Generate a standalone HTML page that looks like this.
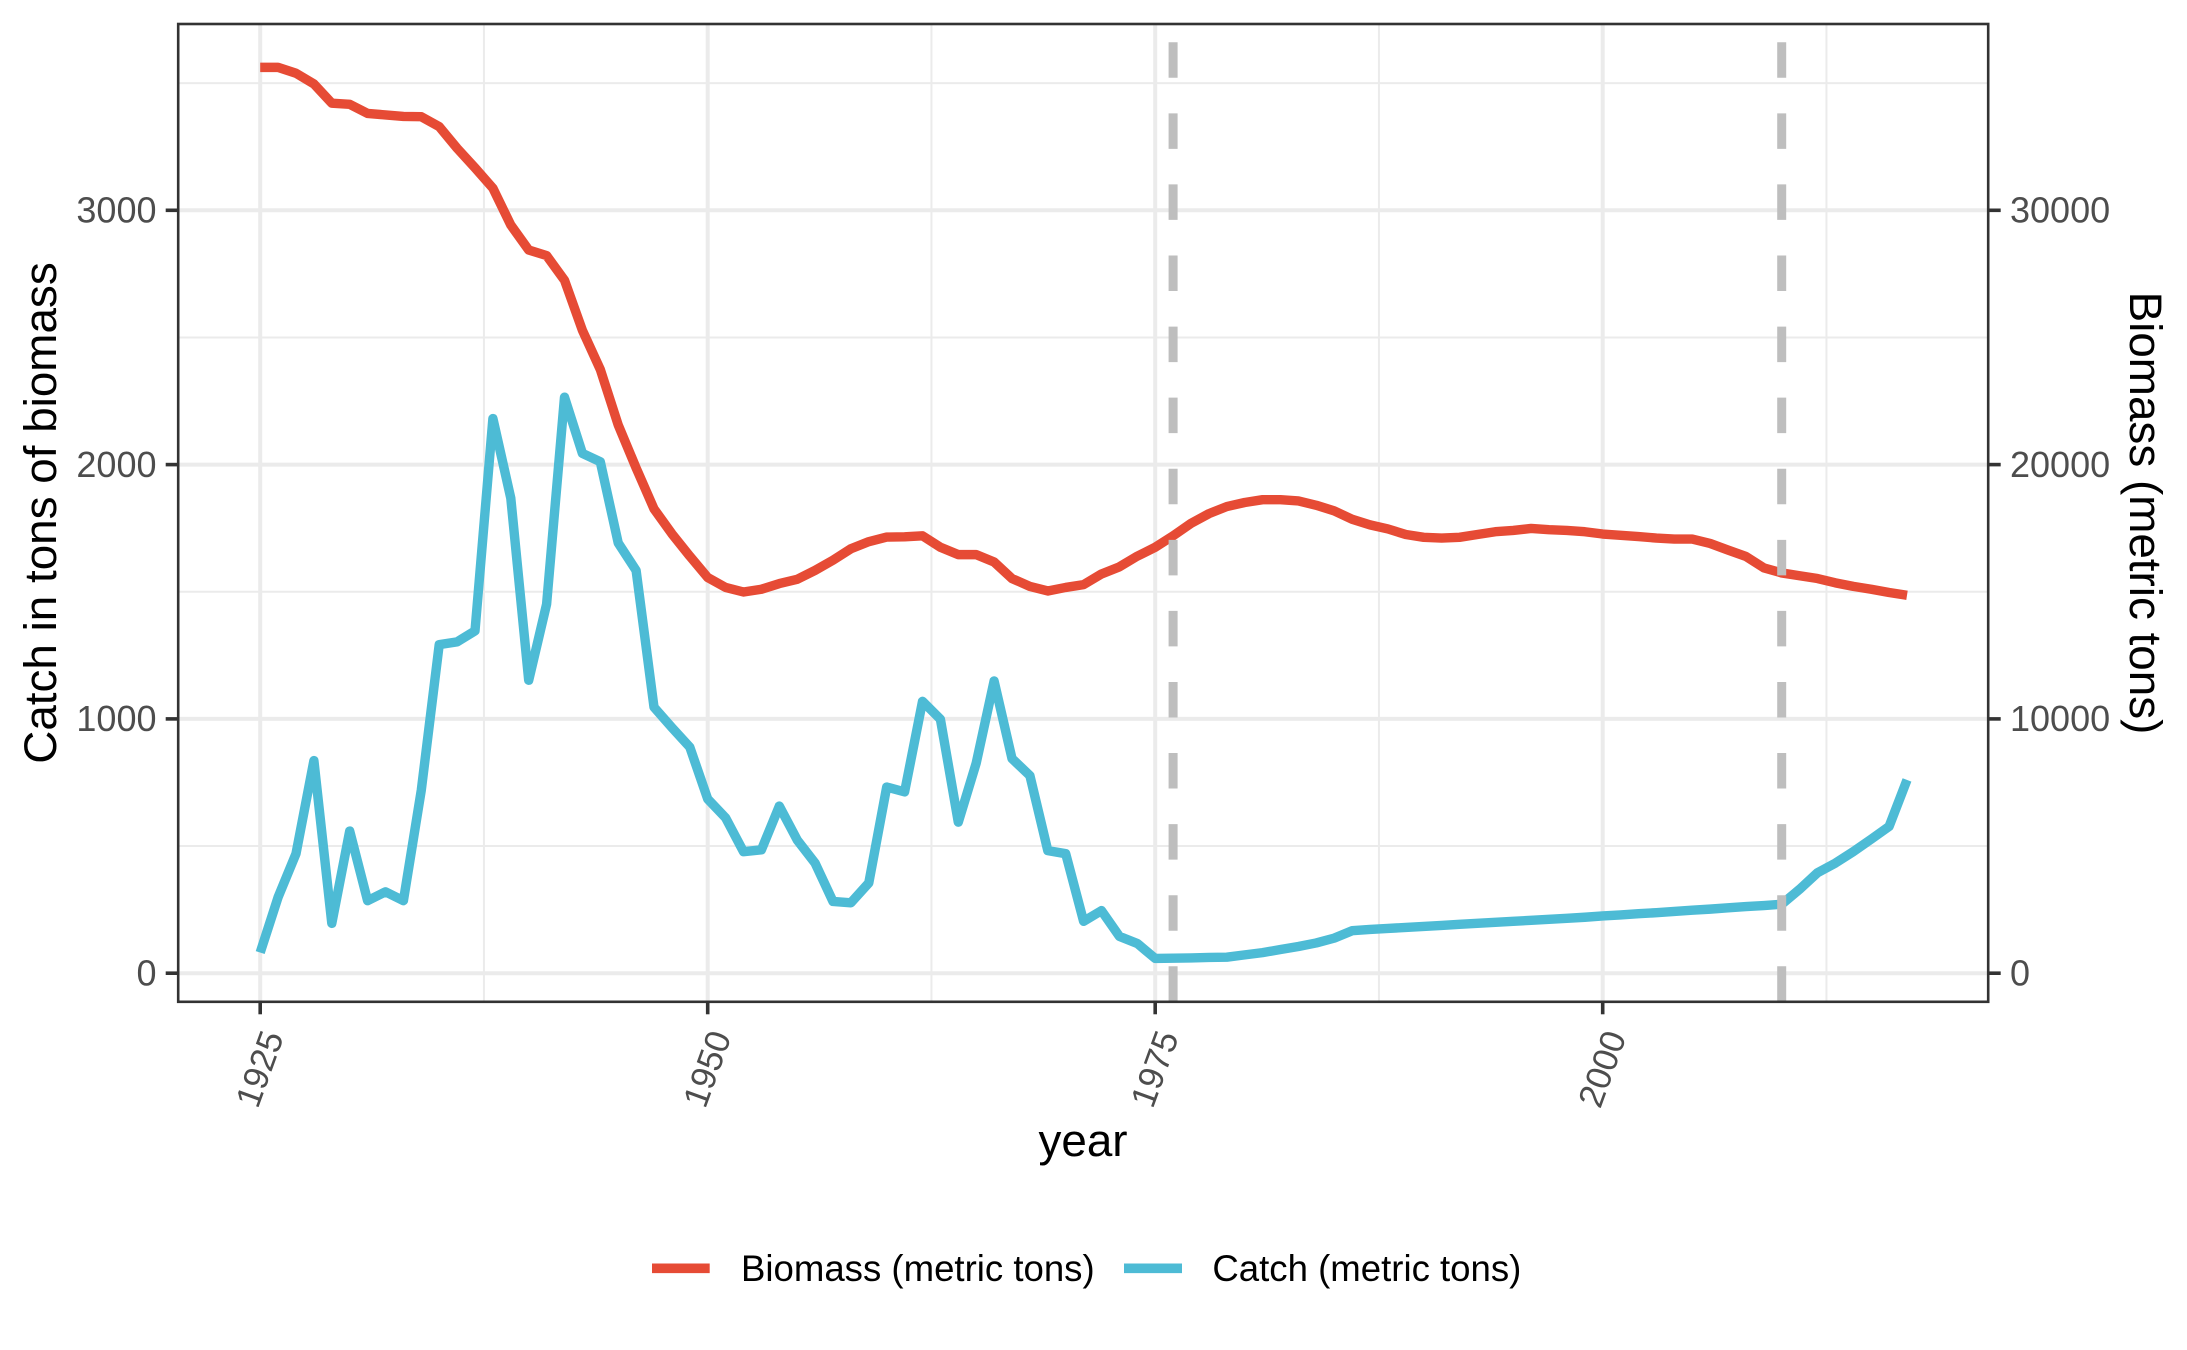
<!DOCTYPE html>
<html>
<head>
<meta charset="utf-8">
<title>Catch and biomass</title>
<style>
html,body{margin:0;padding:0;background:#fff;}
svg{display:block;}
text{font-family:"Liberation Sans",Arial,sans-serif;}
</style>
</head>
<body>
<svg id="chart" xmlns="http://www.w3.org/2000/svg" width="2187" height="1350" viewBox="0 0 2187 1350">
  <rect x="0" y="0" width="2187" height="1350" fill="#fff"/>
  <g id="grid"></g>
  <g id="series"></g>
  <g id="refs"></g>
  <rect x="178.2" y="24" width="1810" height="977.8" fill="none" stroke="#333" stroke-width="2.6"/>
  <g id="axes"></g>
  <text x="1083" y="1156" font-size="45.8" text-anchor="middle" fill="#000">year</text>
  <text transform="translate(56,513) rotate(-90)" font-size="45.8" text-anchor="middle" fill="#000">Catch in tons of biomass</text>
  <text transform="translate(2130,513) rotate(90)" font-size="45.8" text-anchor="middle" fill="#000">Biomass (metric tons)</text>
  <g>
    <line x1="652" x2="709.7" y1="1268.3" y2="1268.3" stroke="#E64B35" stroke-width="9.6"/>
    <text x="741" y="1281" font-size="36.6" fill="#000">Biomass (metric tons)</text>
    <line x1="1124" x2="1182" y1="1268.3" y2="1268.3" stroke="#4DBBD5" stroke-width="9.6"/>
    <text x="1212.4" y="1281" font-size="36.6" fill="#000">Catch (metric tons)</text>
  </g>
</svg>
<script>
var firstYear = 1925;
var catchTons = [
  81,299,470,836,196,559,285,320,285,720,
  1292,1303,1346,2181,1868,1152,1451,2265,2044,2011,
  1692,1584,1046,966,889,685,611,478,485,657,
  524,433,282,277,355,732,713,1069,999,594,
  826,1149,844,777,482,470,204,246,145,117,
  58,59,60,62,63,72,81,93,105,119,
  138,167,172,176,180,184,188,192,196,200,
  204,208,212,216,220,225,229,234,238,243,
  248,252,257,262,266,271,330,395,433,478,
  527,577,760
];
var biomassTons = [
  35620,35620,35390,34970,34210,34170,33810,33750,33690,33680,
  33290,32440,31670,30870,29420,28440,28220,27250,25280,23740,
  21560,19870,18260,17280,16400,15560,15170,14990,15100,15320,
  15490,15840,16240,16690,16970,17150,17160,17200,16750,16460,
  16460,16170,15520,15210,15030,15170,15280,15700,15980,16400,
  16750,17200,17690,18070,18350,18510,18620,18620,18570,18400,
  18180,17850,17630,17470,17250,17140,17110,17140,17250,17360,
  17410,17490,17440,17410,17360,17270,17220,17170,17110,17070,
  17070,16900,16640,16390,15940,15740,15630,15520,15350,15210,
  15100,14970,14860
];
var refYears = [1976, 2010];
var xMajorTicks = [1925, 1950, 1975, 2000];
var xMinorGrid = [1937.5, 1962.5, 1987.5, 2012.5];
var catchTicks = [0, 1000, 2000, 3000];
var catchMinorGrid = [500, 1500, 2500, 3500];
var biomassTicks = [0, 10000, 20000, 30000];

var NS = 'http://www.w3.org/2000/svg';
var panel = {left: 178.2, right: 1988.2, top: 24, bottom: 1001.8};
function xScale(year) { return 260.2 + (year - 1925) * 17.9; }
function yCatch(v) { return 973.2 - v * 0.2543; }
function yBiomass(v) { return 973.2 - v * 0.02543; }
function make(tag, parent, attrs) {
  var el = document.createElementNS(NS, tag);
  for (var k in attrs) { el.setAttribute(k, attrs[k]); }
  parent.appendChild(el);
  return el;
}
var grid = document.getElementById('grid');
var series = document.getElementById('series');
var refs = document.getElementById('refs');
var axes = document.getElementById('axes');

catchMinorGrid.forEach(function (v) {
  var y = yCatch(v);
  var el = make('line', grid, {x1: panel.left, x2: panel.right, y1: y, y2: y, stroke: '#ebebeb', 'stroke-width': 2});
  
  
});
xMinorGrid.forEach(function (v) {
  var x = xScale(v);
  var el = make('line', grid, {x1: x, x2: x, y1: panel.top, y2: panel.bottom, stroke: '#ebebeb', 'stroke-width': 2});
  
  
});
catchTicks.forEach(function (v) {
  var y = yCatch(v);
  var el = make('line', grid, {x1: panel.left, x2: panel.right, y1: y, y2: y, stroke: '#ebebeb', 'stroke-width': 4});
  
  
});
xMajorTicks.forEach(function (v) {
  var x = xScale(v);
  var el = make('line', grid, {x1: x, x2: x, y1: panel.top, y2: panel.bottom, stroke: '#ebebeb', 'stroke-width': 4});
  
  
});

function linePoints(values, yFn) {
  return values.map(function (v, i) {
    return xScale(firstYear + i).toFixed(2) + ',' + yFn(v).toFixed(2);
  }).join(' ');
}
var biomassLine = make('polyline', series, {points: linePoints(biomassTons, yBiomass), fill: 'none', stroke: '#E64B35', 'stroke-width': 9.4, 'stroke-linejoin': 'round', 'stroke-linecap': 'butt'});


var catchLine = make('polyline', series, {points: linePoints(catchTons, yCatch), fill: 'none', stroke: '#4DBBD5', 'stroke-width': 9.4, 'stroke-linejoin': 'round', 'stroke-linecap': 'butt'});



refYears.forEach(function (yr) {
  var x = xScale(yr);
  var el = make('line', refs, {x1: x, x2: x, y1: panel.bottom, y2: panel.top, stroke: '#bebebe', 'stroke-width': 9, 'stroke-dasharray': '35.5 35.58'});
  
  
});

catchTicks.forEach(function (v) {
  var y = yCatch(v);
  var tick = make('line', axes, {x1: panel.left - 12.5, x2: panel.left, y1: y, y2: y, stroke: '#333', 'stroke-width': 3.6});
  
  
  var label = make('text', axes, {x: 156.5, y: y + 12.2, 'text-anchor': 'end', 'font-size': 36, fill: '#4d4d4d'});
  
  
  label.textContent = String(v);
});
biomassTicks.forEach(function (v) {
  var y = yBiomass(v);
  var tick = make('line', axes, {x1: panel.right, x2: panel.right + 12.5, y1: y, y2: y, stroke: '#333', 'stroke-width': 3.6});
  
  
  var label = make('text', axes, {x: 2010, y: y + 12.2, 'text-anchor': 'start', 'font-size': 36, fill: '#4d4d4d'});
  
  
  label.textContent = String(v);
});
xMajorTicks.forEach(function (v) {
  var x = xScale(v);
  var tick = make('line', axes, {x1: x, x2: x, y1: panel.bottom, y2: panel.bottom + 12.5, stroke: '#333', 'stroke-width': 3.6});
  
  
  var label = make('text', axes, {transform: 'translate(' + (x + 24) + ',1036.5) rotate(-70)', 'text-anchor': 'end', 'font-size': 35, fill: '#4d4d4d'});
  
  
  label.textContent = String(v);
});
</script>
</body>
</html>
